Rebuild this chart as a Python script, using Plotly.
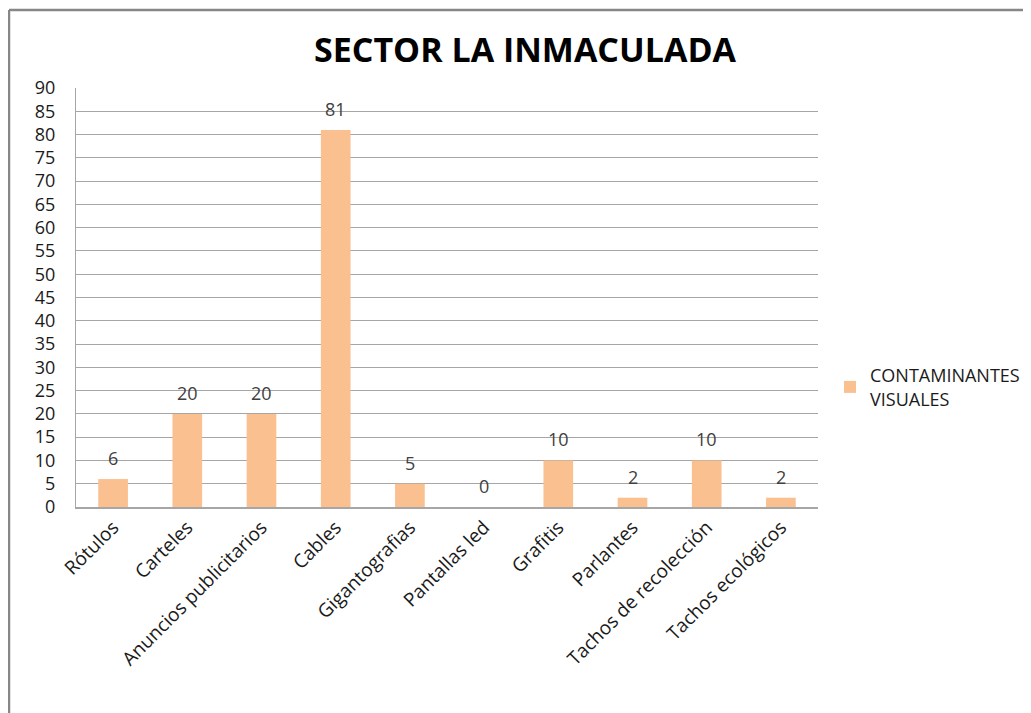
import plotly.graph_objects as go

categories = ["Rótulos", "Carteles", "Anuncios publicitarios", "Cables", "Gigantografias",
              "Pantallas led", "Grafitis", "Parlantes", "Tachos de recolección", "Tachos ecológicos"]
values = [6, 20, 20, 81, 5, 0, 10, 2, 10, 2]
series_name = "CONTAMINANTES<br>VISUALES"
title_text = "SECTOR LA INMACULADA"
y_ticks = list(range(0, 91, 5))

bar_color = "#FAC090"
grid_color = "#A6A6A6"
font_family = "'Open Sans', sans-serif"

# page has an 8px body margin; figure coords = screen coords - 8
OFF = 8
L, R, T, B = 76 - OFF, 213 + OFF, 88 - OFF, 206 + OFF
W, H = 1031, 713
pw, ph = W - L - R, H - T - B

fig = go.Figure()
fig.add_trace(go.Bar(x=categories, y=values, name=series_name, marker_color=bar_color,
                     marker_line_width=0, showlegend=True))

for c, v in zip(categories, values):
    fig.add_annotation(x=c, y=v, text=str(v), showarrow=False, yanchor="bottom", yshift=7,
                       font=dict(size=18, color="#404040", family=font_family))

# outer border (top and left lines)
x0 = (9 - OFF - L) / pw
y0 = (H - B - (10 - OFF)) / ph
fig.add_shape(type="line", xref="paper", yref="paper", x0=x0, x1=(W + 20 - L) / pw, y0=y0, y1=y0,
              line=dict(color="#878787", width=2.5))
fig.add_shape(type="line", xref="paper", yref="paper", x0=x0, x1=x0, y0=y0, y1=(-B - 20) / ph,
              line=dict(color="#878787", width=2.5))

fig.update_layout(
    width=W, height=H,
    margin=dict(l=L, r=R, t=T, b=B),
    paper_bgcolor="white", plot_bgcolor="white",
    font=dict(family=font_family, color="#1a1a1a"),
    title=dict(text="<b>" + title_text + "</b>", x=(525 - OFF) / W, xanchor="center",
               y=1 - (50 - OFF) / H, yanchor="middle",
               font=dict(size=34, color="#000000", family=font_family)),
    bargap=0.6,
    legend=dict(x=(830 - OFF - L) / pw, y=(H - B - (357 - OFF)) / ph, xanchor="left", yanchor="top",
                font=dict(size=18, color="#1a1a1a"), bgcolor="rgba(0,0,0,0)"),
)
fig.update_xaxes(showline=True, linecolor=grid_color, linewidth=1.5, tickangle=-45,
                 tickfont=dict(size=19, color="#1a1a1a"), showgrid=False, ticks="")
fig.update_yaxes(range=[0, 90], tickvals=y_ticks, showgrid=True, gridcolor=grid_color, gridwidth=1,
                 showline=True, linecolor=grid_color, linewidth=1, zeroline=False,
                 tickfont=dict(size=18, color="#1a1a1a"), ticks="", ticklabelstandoff=16)

fig.write_html("out.html")
